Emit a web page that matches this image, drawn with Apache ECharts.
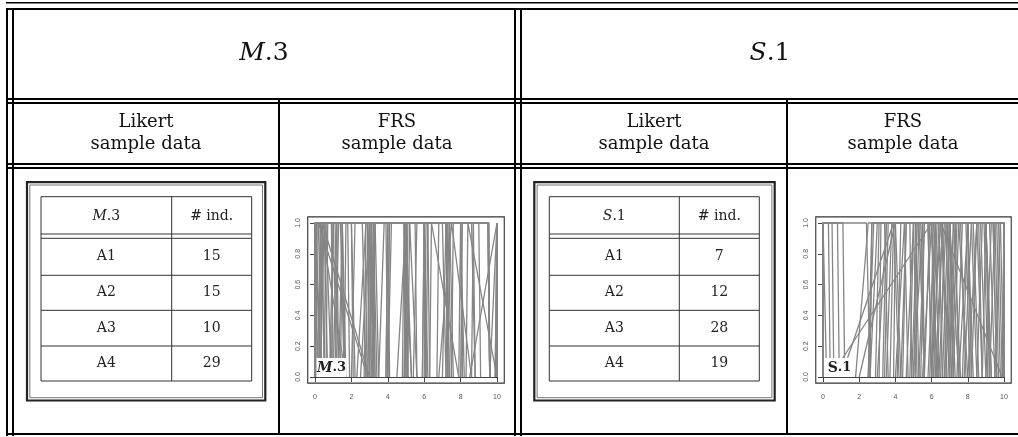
<!DOCTYPE html>
<html><head><meta charset="utf-8">
<script src="https://cdn.jsdelivr.net/npm/echarts@6/dist/echarts.min.js"></script>
<style>html,body{margin:0;padding:0;background:#fff}#c{width:1018px;height:437px}</style>
</head><body><div id="c"></div>
<script>
// ---------------- data ----------------
const panelNames = ['M', 'S'];
const panelNums = ['.3', '.1'];
const answers = ['A1', 'A2', 'A3', 'A4'];
const m3Counts = [15, 15, 10, 29];
const s1Counts = [7, 12, 28, 19];
const xTicks = [0, 2, 4, 6, 8, 10];
const yTicks = [0, 0.2, 0.4, 0.6, 0.8, 1.0];
// FRS sample data: trapezoidal fuzzy numbers [a, b, c, d] (read by eye)
const m3Frs = [
  [0, 0, 0.2, 2.9], [0, 0, 1.0, 1.2], [0, 0.1, 0.6, 0.9], [0, 0.2, 1.4, 1.6],
  [0.1, 0.3, 2.0, 2.2], [0, 0, 0.5, 0.7], [0.3, 0.5, 3.0, 3.2], [0.5, 0.6, 1.1, 1.3],
  [0.8, 1.0, 3.3, 3.5], [1.0, 1.2, 4.0, 4.1], [1.3, 1.5, 2.6, 2.8], [1.6, 1.7, 5.0, 5.1],
  [2.0, 2.2, 3.1, 3.2], [2.3, 2.8, 4.9, 5.3], [2.8, 2.9, 6.0, 6.2], [3.0, 3.1, 3.9, 4.0],
  [3.1, 3.3, 7.0, 7.2], [3.5, 3.8, 5.5, 5.6], [3.9, 4.0, 6.2, 6.3], [4.0, 4.2, 8.0, 8.1],
  [4.8, 4.9, 7.3, 7.5], [5.0, 5.1, 6.0, 6.1], [5.4, 5.6, 9.0, 9.1], [5.9, 6.0, 8.6, 8.8],
  [6.0, 6.1, 7.2, 7.4], [6.3, 6.4, 6.5, 7.9], [6.7, 6.8, 9.55, 9.6], [7.0, 7.2, 8.0, 8.2],
  [7.5, 7.6, 9.5, 9.6], [8.0, 8.1, 9.5, 9.6], [8.5, 10, 10, 10], [8.3, 8.4, 8.5, 10],
  [9.9, 10, 10, 10], [0, 0, 0.1, 0.3], [4.5, 5.0, 5.2, 5.6], [2.5, 3.0, 3.2, 3.4],
  [6.8, 7.5, 7.6, 8.6], [0, 0.05, 0.3, 1.7], [0.2, 0.4, 0.5, 3.0], [1.1, 1.3, 1.5, 1.7],
  [2.9, 3.0, 3.2, 3.3], [4.9, 5.0, 5.1, 5.3], [7.3, 7.4, 7.5, 7.6], [9.6, 10, 10, 10],
  [0, 0, 0.4, 0.5], [0, 0, 2.0, 2.1], [0, 0.1, 3.0, 3.1], [0, 0, 1.5, 1.6],
  [0.2, 0.3, 0.9, 1.0], [0.3, 0.4, 1.2, 1.3], [0.6, 0.7, 2.9, 3.0], [0.9, 1.0, 1.8, 1.9],
  [1.4, 1.5, 3.1, 3.2], [2.7, 2.8, 4.9, 5.0], [2.9, 3.0, 6.0, 6.1], [3.2, 3.3, 4.9, 5.0],
  [3.9, 4.0, 5.0, 5.1], [4.0, 4.1, 7.2, 7.3], [4.9, 5.0, 8.0, 8.1], [5.1, 5.2, 6.0, 6.05],
  [5.9, 6.0, 7.2, 7.3], [6.1, 6.2, 8.7, 8.8], [7.2, 7.3, 8.0, 8.1], [7.9, 8.0, 9.55, 9.6],
  [8.6, 8.7, 9.5, 9.6], [9.9, 10, 10, 10], [9.95, 10, 10, 10], [0.05, 0.1, 0.3, 0.35],
  [3.0, 3.1, 3.2, 3.3]
];
const s1Frs = [
  [0, 0, 0.5, 0.6], [0, 0, 0.8, 0.9], [0, 0, 1.1, 1.2], [0.4, 6.0, 6.1, 6.3],
  [1.0, 3.9, 4.0, 4.2], [1.8, 2.5, 4.5, 4.7], [2.5, 2.7, 3.4, 3.6], [2.6, 3.0, 5.0, 5.2],
  [2.9, 3.1, 6.0, 6.3], [3.0, 3.5, 4.0, 4.3], [3.3, 3.5, 7.0, 7.3], [3.5, 3.8, 5.3, 5.6],
  [3.9, 4.0, 6.6, 6.8], [4.0, 4.5, 7.5, 8.0], [4.3, 4.6, 5.8, 6.0], [4.6, 5.0, 6.9, 7.1],
  [4.9, 5.2, 8.0, 8.2], [5.0, 5.5, 7.0, 7.5], [5.3, 5.6, 9.0, 9.3], [5.5, 6.0, 6.5, 7.0],
  [5.8, 6.2, 8.5, 8.8], [6.0, 6.3, 7.6, 7.9], [6.0, 6.5, 6.6, 9.9], [6.2, 6.6, 9.5, 9.7],
  [6.4, 6.8, 7.2, 7.6], [6.6, 6.9, 8.2, 8.5], [6.8, 7.0, 10, 10], [7.0, 7.3, 8.9, 9.1],
  [7.2, 7.5, 9.2, 9.5], [7.5, 8.0, 10, 10], [7.8, 8.2, 9.0, 9.2], [8.0, 8.5, 10, 10],
  [8.5, 8.8, 9.6, 9.8], [9.0, 9.3, 10, 10], [9.5, 9.8, 10, 10], [2.0, 4.0, 5.8, 6.0],
  [2.5, 2.8, 9.8, 10], [0, 0, 2.4, 2.6], [9.9, 10, 10, 10],
  [0, 0, 0.3, 0.4], [0, 0, 0.1, 0.2], [2.6, 2.7, 5.5, 5.6], [3.1, 3.2, 4.8, 4.9],
  [3.4, 3.6, 6.2, 6.4], [3.7, 3.9, 8.0, 8.2], [4.1, 4.3, 5.1, 5.3], [4.4, 4.6, 6.0, 6.2],
  [4.8, 5.0, 9.0, 9.2], [5.1, 5.3, 6.8, 7.0], [5.4, 5.6, 7.3, 7.5], [5.6, 5.9, 8.3, 8.6],
  [5.9, 6.1, 7.0, 7.2], [6.1, 6.4, 9.4, 9.6], [6.3, 6.6, 8.0, 8.3], [6.5, 6.7, 7.0, 7.2],
  [6.7, 7.0, 8.7, 9.0], [6.9, 7.2, 9.0, 9.3], [7.1, 7.4, 7.9, 8.1], [7.4, 7.7, 9.7, 9.9],
  [7.7, 8.0, 8.6, 8.8], [8.2, 8.5, 9.4, 9.6], [8.8, 9.0, 10, 10], [9.2, 9.5, 10, 10],
  [6.0, 6.2, 6.4, 6.6], [5.0, 5.2, 5.4, 5.6], [9.95, 10, 10, 10]
];
const frsSets = [m3Frs, s1Frs];
const countSets = [m3Counts, s1Counts];

// ---------------- layout helpers ----------------
const SERIF = '"DejaVu Serif", serif';
const G = [];
function hl(x1, x2, y, w, c) { G.push({type:'line', silent:true, z:50, shape:{x1:x1, y1:y, x2:x2, y2:y}, style:{stroke:c||'#000', lineWidth:w}}); }
function vl(x, y1, y2, w, c) { G.push({type:'line', silent:true, z:50, shape:{x1:x, y1:y1, x2:x, y2:y2}, style:{stroke:c||'#000', lineWidth:w}}); }
function rc(x, y, w, h, lw, c) { G.push({type:'rect', silent:true, z:50, shape:{x:x, y:y, width:w, height:h}, style:{fill:'none', stroke:c, lineWidth:lw}}); }
function tx(x, y, text, font, extra) {
  G.push(Object.assign({type:'text', silent:true, z:60, x:x, y:y,
    style:Object.assign({text:text, font:font, fill:'#111', align:'center', verticalAlign:'middle'}, extra||{})}));
}

// outer table
hl(6, 1018, 2.7, 1.4); hl(6, 1018, 9, 2);
hl(6, 1018, 99, 2); hl(6, 1018, 103, 2);
hl(6, 1018, 164, 2); hl(6, 1018, 168, 2);
hl(6, 1018, 434, 2);
vl(7, 8, 436, 2); vl(13, 8, 436, 2);
vl(515, 8, 436, 2); vl(521, 8, 436, 2);
vl(279, 99, 435, 2); vl(787, 99, 435, 2);

// header texts
const headX = [264, 770];
const likX = [146, 654];
const frsX = [397, 903];
for (let p = 0; p < 2; p++) {
  tx(headX[p], 53, '{i|' + panelNames[p] + '}{n|' + panelNums[p] + '}', '', {
    rich:{i:{font:'italic 25px ' + SERIF, fill:'#111'}, n:{font:'25px ' + SERIF, fill:'#111'}}});
  tx(likX[p], 133, 'Likert\nsample data', '18px ' + SERIF, {lineHeight:22});
  tx(frsX[p], 133, 'FRS\nsample data', '18px ' + SERIF, {lineHeight:22});
}

// inner Likert tables
const frameL = [27, 534.3], frameR = [265.3, 774.7];
const tabL = [41, 549.3], tabM = [171.7, 679.3], tabR = [251.7, 759.3];
const rowY = [196.7, 234, 238.3, 275.3, 310.3, 346, 381];
for (let p = 0; p < 2; p++) {
  rc(frameL[p], 182.2, frameR[p] - frameL[p], 218.3, 2.2, '#222');
  rc(frameL[p] + 2.8, 185, frameR[p] - frameL[p] - 5.6, 212.7, 1, '#777');
  const L = tabL[p], M = tabM[p], R = tabR[p];
  rowY.forEach(y => hl(L, R, y, 1, '#333'));
  vl(L, rowY[0], rowY[6], 1, '#333'); vl(M, rowY[0], rowY[6], 1, '#333'); vl(R, rowY[0], rowY[6], 1, '#333');
  const c1 = (L + M) / 2, c2 = (M + R) / 2;
  tx(c1, 216, '{i|' + panelNames[p] + '}{n|' + panelNums[p] + '}', '', {
    rich:{i:{font:'italic 14px ' + SERIF, fill:'#222'}, n:{font:'14px ' + SERIF, fill:'#222'}}});
  tx(c2, 216, '# ind.', '14px ' + SERIF, {fill:'#222'});
  const cy = [256.8, 292.8, 328.2, 363.5];
  answers.forEach((a, i) => {
    tx(c1, cy[i], a, '14px ' + SERIF, {fill:'#222'});
    tx(c2, cy[i], String(countSets[p][i]), '14px ' + SERIF, {fill:'#222'});
  });
}

// plot boxes and legend boxes
const grids = [{left:315, top:223, width:182, height:154}, {left:823, top:223, width:181, height:154}];
grids.forEach((g, p) => {
  const mx = g.width * 0.04, my = g.height * 0.04;
  rc(g.left - mx, g.top - my, g.width + 2 * mx, g.height + 2 * my, 1.1, '#333');
  G.push({type:'rect', silent:true, z:55, shape:{x:g.left + 1.5, y:g.top + g.height - 19, width:30, height:19}, style:{fill:'#fff'}});
  tx(g.left + 16.5, g.top + g.height - 9, '{i|' + panelNames[p] + '}{n|' + panelNums[p] + '}', '', {
    rich:{i:{font:(p === 0 ? 'italic ' : '') + 'bold 14px ' + SERIF, fill:'#222'}, n:{font:'bold 13px ' + SERIF, fill:'#222'}}});
});

// ---------------- chart ----------------
const axisCol = '#444';
const xAxes = grids.map((g, i) => ({
  type:'value', gridIndex:i, min:xTicks[0], max:xTicks[xTicks.length - 1], interval:2, offset:6,
  axisLine:{show:true, lineStyle:{color:axisCol, width:1}},
  axisTick:{show:true, length:5, lineStyle:{color:axisCol, width:1}},
  axisLabel:{fontSize:7, color:'#555', margin:11, fontFamily:'"Liberation Sans", Arial, sans-serif'},
  splitLine:{show:false}
}));
const yAxes = grids.map((g, i) => ({
  type:'value', gridIndex:i, min:yTicks[0], max:yTicks[yTicks.length - 1], interval:0.2, offset:6.5,
  axisLine:{show:true, lineStyle:{color:axisCol, width:1}},
  axisTick:{show:true, length:5, lineStyle:{color:axisCol, width:1}},
  axisLabel:{fontSize:7, color:'#555', margin:7, rotate:90, formatter:v => v.toFixed(1),
    fontFamily:'"Liberation Sans", Arial, sans-serif'},
  splitLine:{show:false}
}));
const series = [];
frsSets.forEach((set, p) => {
  set.forEach(t => {
    series.push({type:'line', xAxisIndex:p, yAxisIndex:p, clip:false, silent:true, symbol:'none',
      data:[[t[0], 0], [t[1], 1], [t[2], 1], [t[3], 0]],
      lineStyle:{color:'#858585', width:1.3}, z:2});
  });
});

const chart = echarts.init(document.getElementById('c'), null, {renderer:'canvas'});
chart.setOption({
  animation:false, backgroundColor:'#fff',
  grid:grids.map(g => Object.assign({containLabel:false}, g)),
  xAxis:xAxes, yAxis:yAxes, series:series, graphic:G
});
</script></body></html>
